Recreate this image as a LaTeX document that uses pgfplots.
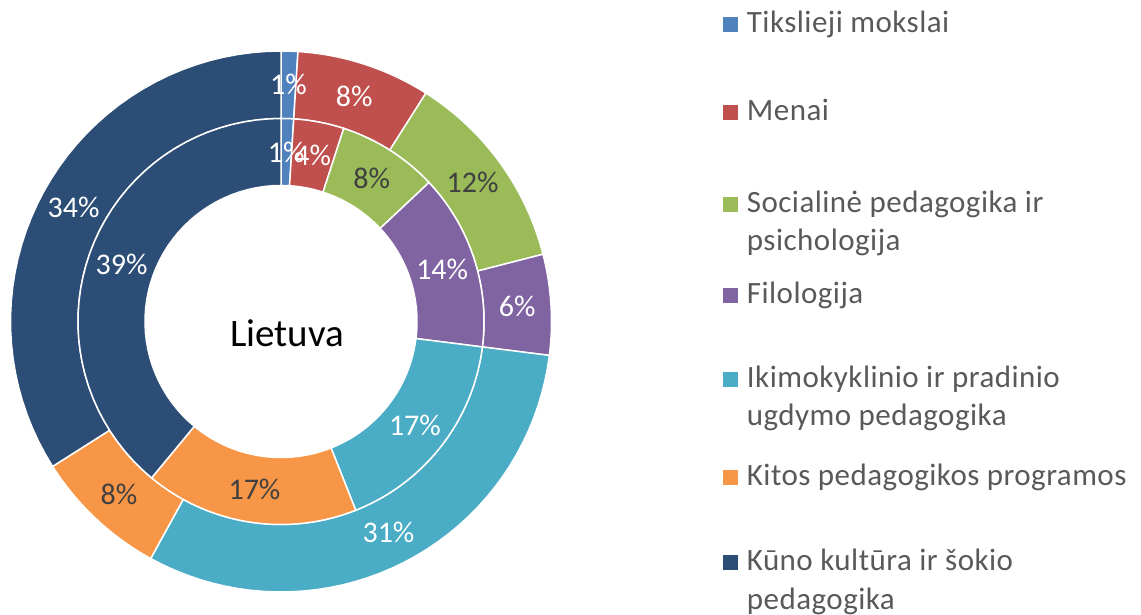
\documentclass[border=0pt]{standalone}
\usepackage{pgfplots}
\pgfplotsset{compat=1.18}
\usepackage{fontspec}
\setmainfont{Carlito}
\definecolor{cBlue}{HTML}{4F81BD}
\definecolor{cRed}{HTML}{C0504D}
\definecolor{cGreen}{HTML}{9BBB59}
\definecolor{cPurple}{HTML}{8064A2}
\definecolor{cTeal}{HTML}{4BACC6}
\definecolor{cOrange}{HTML}{F79646}
\definecolor{cNavy}{HTML}{2C4D75}
\definecolor{cDark}{HTML}{404040}
\definecolor{cLeg}{HTML}{595959}
\tikzset{lbl/.style={font=\fontsize{30bp}{36bp}\selectfont, inner sep=0pt, anchor=center},
  legtxt/.style={font=\fontsize{31bp}{37bp}\selectfont\addfontfeature{LetterSpace=1.5}, text=cLeg, inner sep=0pt, anchor=base west}}
\def\cx{281}
\def\cy{293.5}
\def\cum{0}
\gdef\labellist{}
% #1 outer radius, #2 inner radius, #3 value (%), #4 colour, #5 label, #6 label colour
\newcommand\slice[6]{%
  \pgfmathsetmacro\SA{90-3.6*\cum}%
  \pgfmathsetmacro\SB{90-3.6*(\cum+#3)}%
  \pgfmathsetmacro\SM{((\SA)+(\SB))/2}%
  \pgfmathsetmacro\RM{(#1+#2)/2}%
  \pgfmathsetmacro\LX{\cx+\RM*cos(\SM)}%
  \pgfmathsetmacro\LY{\cy+\RM*sin(\SM)}%
  \edef\doit{%
    \noexpand\addplot[fill=#4, draw=white, line width=1.5bp, domain=0:81, samples=82, variable=\noexpand\t]
     ({\cx+ifthenelse(\noexpand\t<40.5, #1*cos((\SA)+((\SB)-(\SA))*\noexpand\t/40), #2*cos((\SB)-((\SB)-(\SA))*(\noexpand\t-41)/40))},
      {\cy+ifthenelse(\noexpand\t<40.5, #1*sin((\SA)+((\SB)-(\SA))*\noexpand\t/40), #2*sin((\SB)-((\SB)-(\SA))*(\noexpand\t-41)/40))}) -- cycle;
  }\doit
  \xdef\labellist{\unexpanded\expandafter{\labellist}\noexpand\node[lbl, text=#6] at (axis cs:\LX,\LY) {\unexpanded{#5}};}%
  \pgfmathsetmacro\NC{\cum+#3}\global\let\cum\NC
}
% legend entry: colour, square centre y (from top), first line, second line
\newcommand\legentry[4]{%
  \fill[#1] (axis cs:722.7,{615-#2-7.5}) rectangle (axis cs:737.7,{615-#2+7.5});
  \node[legtxt] at (axis cs:746.7,{615-#2-8}) {#3};
  \node[legtxt] at (axis cs:746.7,{615-#2-46}) {#4};
}
\begin{document}
\begin{tikzpicture}
\begin{axis}[width=1141bp, height=615bp, scale only axis,
  xmin=0, xmax=1141, ymin=0, ymax=615, hide axis, clip=false, no markers]
\path (rel axis cs:0,0) rectangle (rel axis cs:1,1);
% outer ring
\gdef\cum{0}
\slice{270.5}{203}{1}{cBlue}{1\%}{white}
\slice{270.5}{203}{8}{cRed}{8\%}{white}
\slice{270.5}{203}{12}{cGreen}{12\%}{cDark}
\slice{270.5}{203}{6}{cPurple}{6\%}{white}
\slice{270.5}{203}{31}{cTeal}{31\%}{white}
\slice{270.5}{203}{8}{cOrange}{8\%}{cDark}
\slice{270.5}{203}{34}{cNavy}{34\%}{white}
% inner ring
\gdef\cum{0}
\slice{203}{136}{1}{cBlue}{1\%}{white}
\slice{203}{136}{4}{cRed}{4\%}{white}
\slice{203}{136}{8}{cGreen}{8\%}{cDark}
\slice{203}{136}{14}{cPurple}{14\%}{white}
\slice{203}{136}{17}{cTeal}{17\%}{white}
\slice{203}{136}{17}{cOrange}{17\%}{cDark}
\slice{203}{136}{39}{cNavy}{39\%}{white}
\labellist
\node[font=\fontsize{39bp}{46bp}\selectfont, anchor=base, inner sep=0pt] at (axis cs:287,268) {Lietuva};
% legend
\legentry{cBlue}{25}{Tikslieji mokslai}{}
\legentry{cRed}{112.7}{Menai}{}
\legentry{cGreen}{205}{Socialinė pedagogika ir}{psichologija}
\legentry{cPurple}{296}{Filologija}{}
\legentry{cTeal}{380}{Ikimokyklinio ir pradinio}{ugdymo pedagogika}
\legentry{cOrange}{478}{Kitos pedagogikos programos}{}
\legentry{cNavy}{563}{Kūno kultūra ir šokio}{pedagogika}
\end{axis}
\end{tikzpicture}
\end{document}
